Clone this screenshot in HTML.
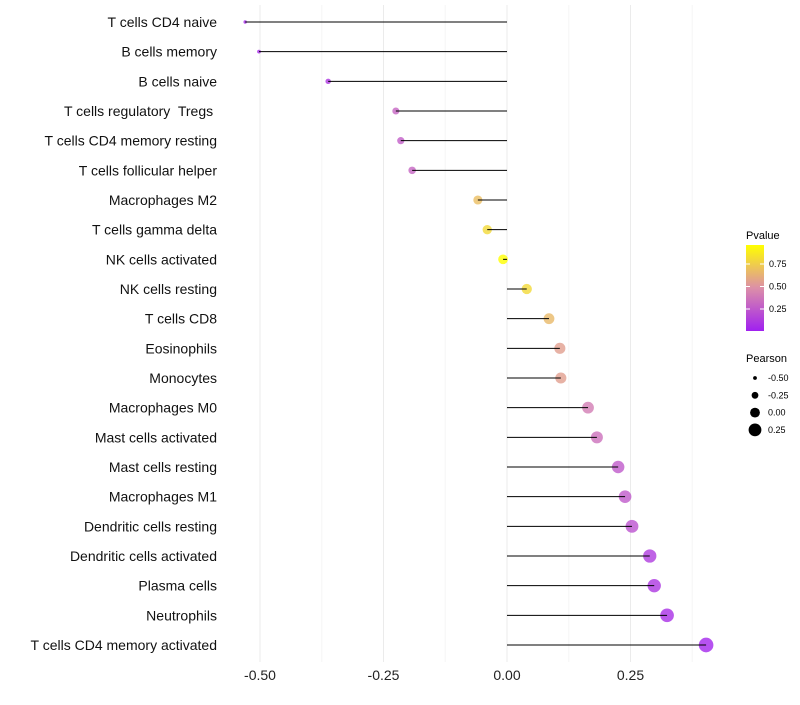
<!DOCTYPE html>
<html><head><meta charset="utf-8"><style>
body{margin:0;background:#fff;font-family:"Liberation Sans",sans-serif}
svg text{font-family:"Liberation Sans",sans-serif;white-space:pre}
</style></head><body>
<svg id="chart" width="800" height="700">
<defs><linearGradient id="pg" x1="0" y1="1" x2="0" y2="0">
<stop offset="0" stop-color="#a020f0"/><stop offset="0.5" stop-color="#dc8fa8"/><stop offset="1" stop-color="#ffff00"/>
</linearGradient></defs>
<g id="grid"></g>
<g id="dots"></g>
<g id="marks"></g>
<g id="ylabels"></g>
<g id="xlabels"></g>
<g>
<text x="746" y="239" font-size="11">Pvalue</text>
<rect x="746" y="245" width="18" height="86" fill="url(#pg)"/>
<g id="cbticks"></g>
</g>
<g id="sizeleg">
<text x="746" y="362" font-size="11">Pearson</text>
</g>
</svg>
<script>
const categories=["T cells CD4 naive","B cells memory","B cells naive","T cells regulatory  Tregs ","T cells CD4 memory resting","T cells follicular helper","Macrophages M2","T cells gamma delta","NK cells activated","NK cells resting","T cells CD8","Eosinophils","Monocytes","Macrophages M0","Mast cells activated","Mast cells resting","Macrophages M1","Dendritic cells resting","Dendritic cells activated","Plasma cells","Neutrophils","T cells CD4 memory activated"];
const pearson=[-0.530,-0.502,-0.362,-0.225,-0.215,-0.192,-0.059,-0.040,-0.008,0.040,0.085,0.107,0.109,0.164,0.182,0.225,0.239,0.253,0.289,0.298,0.324,0.403];
const pvalue=[0.04,0.05,0.1,0.3,0.27,0.3,0.68,0.8,0.96,0.8,0.66,0.55,0.55,0.4,0.35,0.25,0.25,0.22,0.12,0.1,0.07,0.03];
const xTicks=[-0.5,-0.25,0,0.25];
const xTickLabels=["-0.50","-0.25","0.00","0.25"];
const pTicks=[0.25,0.5,0.75];
const sizeTicks=[-0.5,-0.25,0,0.25];
const NS="http://www.w3.org/2000/svg";
const x=v=>507+v*494;
const y=i=>22+i*(623/21);
const r=v=>4.9+6*v;
const cy=p=>331.5-p*90;
function mk(t,a,parent){const e=document.createElementNS(NS,t);for(const k in a)e.setAttribute(k,a[k]);parent.appendChild(e);return e;}
function lerp(a,b,t){return a.map((v,i)=>Math.round(v+(b[i]-v)*t));}
function col(p){const t=Math.max(0,Math.min(1,p/0.96));const P=[160,32,240],M=[220,143,168],Y=[255,255,0];const c=t<0.5?lerp(P,M,t*2):lerp(M,Y,(t-0.5)*2);return `rgb(${c})`;}
const G=document.getElementById('grid'),M=document.getElementById('marks'),D=document.getElementById('dots'),YL=document.getElementById('ylabels'),XL=document.getElementById('xlabels');
[-0.375,-0.125,0.125,0.375].forEach(v=>{const l=mk('line',{x1:x(v),x2:x(v),y1:5,y2:662,stroke:'#f5f5f5','stroke-width':1},G);});
xTicks.forEach((v,i)=>{const l=mk('line',{x1:x(v),x2:x(v),y1:5,y2:662,stroke:'#ebebeb','stroke-width':1},G);
const t=mk('text',{x:x(v),y:680,'font-size':14,'text-anchor':'middle',fill:'#222'},XL);t.textContent=xTickLabels[i];});
categories.forEach((c,i)=>{const t=mk('text',{x:217,y:y(i)+5,'font-size':14,'text-anchor':'end',fill:'#111'},YL);t.textContent=c;
const d=mk('circle',{cx:x(pearson[i]),cy:y(i),r:r(pearson[i]),fill:col(pvalue[i]),'fill-opacity':0.8},D);
const l=mk('line',{x1:x(0),x2:x(pearson[i]),y1:y(i),y2:y(i),stroke:'#000','stroke-width':1},M);});
const CT=document.getElementById('cbticks');
pTicks.forEach(p=>{mk('line',{x1:746,x2:750,y1:cy(p),y2:cy(p),stroke:'#fff'},CT);mk('line',{x1:760,x2:764,y1:cy(p),y2:cy(p),stroke:'#fff'},CT);
const t=mk('text',{x:769,y:cy(p)+3,'font-size':9},CT);t.textContent=p.toFixed(2);});
const SL=document.getElementById('sizeleg');
sizeTicks.forEach((v,i)=>{const yy=378+i*17.3;const c=mk('circle',{cx:755,cy:yy,r:r(v),fill:'#000'},SL);
const t=mk('text',{x:768,y:yy+3,'font-size':9},SL);t.textContent=v.toFixed(2);});
</script>
</body></html>
